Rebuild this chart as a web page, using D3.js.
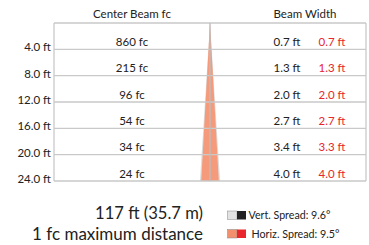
<!DOCTYPE html>
<html><head><meta charset="utf-8">
<script src="https://cdn.jsdelivr.net/npm/d3@7"></script>
<style>
html,body{margin:0;padding:0;background:#fff;}
text{font-family:Lato,"Open Sans",sans-serif;}
</style></head>
<body><svg id="c" width="369" height="245"></svg>
<script>
const distances = [4, 8, 12, 16, 20, 24];
const distanceLabels = ["4.0 ft","8.0 ft","12.0 ft","16.0 ft","20.0 ft","24.0 ft"];
const centerFc = ["860 fc","215 fc","96 fc","54 fc","34 fc","24 fc"];
const vertWidth = ["0.7 ft","1.3 ft","2.0 ft","2.7 ft","3.4 ft","4.0 ft"];
const horizWidth = ["0.7 ft","1.3 ft","2.0 ft","2.7 ft","3.3 ft","4.0 ft"];
const vertSpread = 9.6, horizSpread = 9.5;
const maxDistanceText = "117 ft (35.7 m)";
const maxDistanceSub = "1 fc maximum distance";

const svg = d3.select("#c");
const L = 54, R = 366, T = 23, B = 181, CX = 210;
const y = d3.scaleLinear().domain([0, 24]).range([T, B]);
const x = d3.scaleLinear().domain([-5, 5]).range([CX - 22, CX + 22]);
const grid = "#c9c9c9";

function fit(sel, target){
  const base = +sel.attr("font-size");
  const len = sel.node().getComputedTextLength();
  if (len > 0) sel.attr("font-size", base * target / len);
  return sel;
}

// cones
const vw = 24 * Math.tan(vertSpread/2*Math.PI/180);
svg.append("path")
  .attr("d", d3.line()([[x(0), y(0)], [x(vw)+1.2, y(24)], [x(-vw)-1.2, y(24)]]) + "Z")
  .attr("fill", "#dcdcdc");
const hw = 24 * Math.tan(horizSpread/2*Math.PI/180);
svg.append("path")
  .attr("d", d3.line()([[x(0), y(0)], [x(hw), y(24)], [x(-hw), y(24)]]) + "Z")
  .attr("fill", "#f59a7b");

// grid
function hline(yy){ svg.append("line").attr("x1", L).attr("x2", R).attr("y1", yy).attr("y2", yy).attr("stroke", grid).attr("stroke-width", 1.3); }
hline(y(0));
distances.forEach(d => hline(y(d)));
svg.append("line").attr("x1", L).attr("x2", L).attr("y1", y(0)).attr("y2", y(24)).attr("stroke", grid).attr("stroke-width", 1.3);
svg.append("line").attr("x1", R).attr("x2", R).attr("y1", y(0)).attr("y2", y(24)).attr("stroke", grid).attr("stroke-width", 1.3);
svg.append("line").attr("x1", x(0)).attr("x2", x(0)).attr("y1", y(0)).attr("y2", y(24)).attr("stroke", "#bdbdbd").attr("stroke-width", 1.3);

// headers
svg.append("text").attr("x", 132).attr("y", 18).attr("text-anchor", "middle").attr("font-size", 11.5).attr("fill", "#222").text("Center Beam fc");
svg.append("text").attr("x", 305).attr("y", 18).attr("text-anchor", "middle").attr("font-size", 11.5).attr("fill", "#222").text("Beam Width");

// labels
distances.forEach((d, i) => {
  svg.append("text").attr("x", 51).attr("y", y(d) + 2).attr("text-anchor", "end").attr("font-size", 11.5).attr("fill", "#222").text(distanceLabels[i]);
  const by = y(d) - 3.5;
  svg.append("text").attr("x", 132).attr("y", by).attr("text-anchor", "middle").attr("font-size", 11.5).attr("fill", "#222").text(centerFc[i]);
  svg.append("text").attr("x", 287).attr("y", by).attr("text-anchor", "middle").attr("font-size", 11.5).attr("fill", "#222").text(vertWidth[i]);
  svg.append("text").attr("x", 332).attr("y", by).attr("text-anchor", "middle").attr("font-size", 11.5).attr("fill", "#e8262b").text(horizWidth[i]);
});

// bottom text
fit(svg.append("text").attr("x", 203).attr("y", 219).attr("text-anchor", "end").attr("font-size", 16).attr("fill", "#222").text(maxDistanceText), 108);
fit(svg.append("text").attr("x", 203).attr("y", 240).attr("text-anchor", "end").attr("font-size", 16).attr("fill", "#222").text(maxDistanceSub), 171);

// legend
function legend(yy, c1, c2, label, tx, tw){
  svg.append("rect").attr("x", 227.5).attr("y", yy).attr("width", 9.5).attr("height", 8.5).attr("fill", c1).attr("stroke", "#888").attr("stroke-width", 0.5);
  svg.append("rect").attr("x", 237).attr("y", yy).attr("width", 9).attr("height", 8.5).attr("fill", c2);
  fit(svg.append("text").attr("x", tx).attr("y", yy + 8).attr("font-size", 10).attr("fill", "#222").text(label), tw);
}
legend(211, "#e2e2e2", "#222", "Vert. Spread: " + vertSpread + "°", 248.5, 82);
legend(229.5, "#f48f6e", "#e8262b", "Horiz. Spread: " + horizSpread + "°", 251.5, 88);
</script></body></html>
